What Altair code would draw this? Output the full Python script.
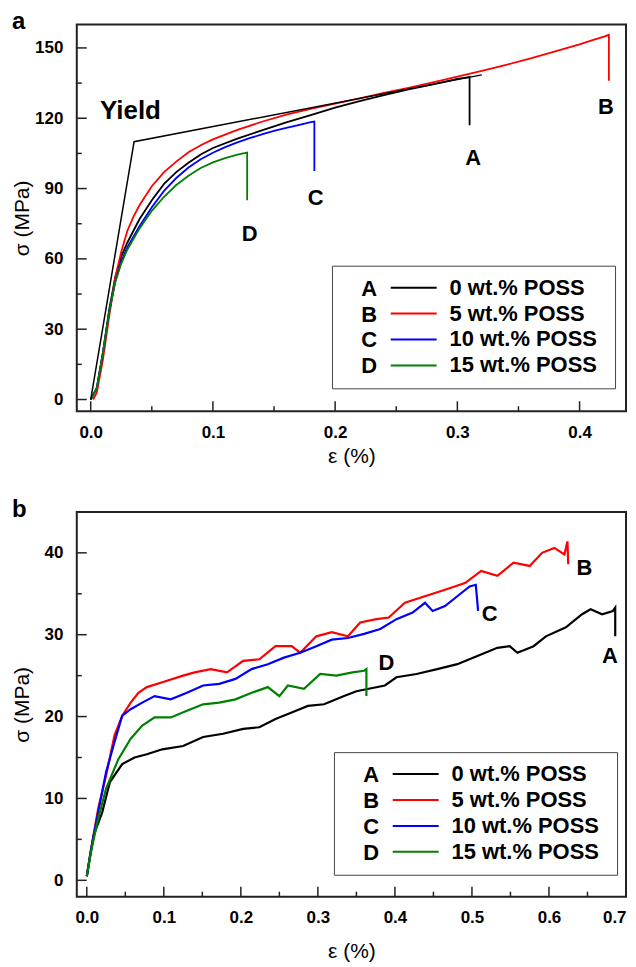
import altair as alt
import pandas as pd

FONT = "Liberation Sans"

series_labels = ["0 wt.% POSS", "5 wt.% POSS", "10 wt.% POSS", "15 wt.% POSS"]
series_letters = ["A", "B", "C", "D"]
series_colors = ["#000000", "#ff0000", "#0000ff", "#008000"]

# ---------------- Panel a ----------------
a_A_x = [0, 0.005, 0.01, 0.015, 0.02, 0.025, 0.03, 0.04, 0.05, 0.06, 0.07, 0.08, 0.09, 0.1, 0.12, 0.14,
         0.16, 0.18, 0.2, 0.22, 0.24, 0.26, 0.28, 0.3, 0.31, 0.31]
a_A_y = [0, 5, 20, 38, 52, 61, 67, 77, 85, 92, 97, 101, 104.5, 107.3, 111.3, 114.8, 118.2, 121.3, 124.5,
         127.3, 129.9, 132.3, 134.5, 136.8, 137.6, 117]
a_B_x = [0.002, 0.005, 0.01, 0.015, 0.02, 0.025, 0.03, 0.035, 0.04, 0.05, 0.06, 0.07, 0.08, 0.09, 0.1,
         0.12, 0.14, 0.16, 0.18, 0.2, 0.22, 0.24, 0.26, 0.28, 0.3, 0.32, 0.34, 0.36, 0.38, 0.4, 0.41, 0.42,
         0.424, 0.424]
a_B_y = [0, 3, 17, 35, 52, 63, 72, 78, 83, 91, 97, 101.5, 105.5, 108.5, 111, 115, 118.5, 121.5, 124,
         126.2, 128.5, 130.8, 133, 135.3, 137.8, 140.2, 142.8, 145.5, 148.5, 151.5, 153.2, 154.8, 155.6, 136]
a_C_x = [0, 0.005, 0.01, 0.015, 0.02, 0.025, 0.03, 0.04, 0.05, 0.06, 0.07, 0.08, 0.09, 0.1, 0.11, 0.12,
         0.13, 0.14, 0.15, 0.16, 0.17, 0.18, 0.183, 0.183]
a_C_y = [0, 5, 20, 37, 50, 59, 65, 74, 82, 89, 94.5, 99, 102.5, 105.3, 107.7, 109.7, 111.5, 113.1, 114.6,
         115.9, 117.1, 118.3, 118.6, 97.5]
a_D_x = [0, 0.005, 0.01, 0.015, 0.02, 0.025, 0.03, 0.04, 0.05, 0.06, 0.07, 0.08, 0.09, 0.1, 0.11, 0.12,
         0.128, 0.128]
a_D_y = [0, 5, 20, 37, 50, 58, 64, 73, 80.5, 86.5, 91.5, 95.5, 98.8, 101.2, 103, 104.5, 105.3, 85]

a_yield_x = [0, 0.0355, 0.32]
a_yield_y = [0, 110, 138.5]
a_yield_label = ["Yield"]
a_yield_label_x = [0.0325]
a_yield_label_y = [123]

a_ann_text = ["A", "B", "C", "D"]
a_ann_x = [0.313, 0.4215, 0.184, 0.130]
a_ann_y = [103, 125, 86, 70.6]

a_x_major = [0, 0.1, 0.2, 0.3, 0.4]
a_x_minor = [0.05, 0.15, 0.25, 0.35]
a_y_major = [0, 30, 60, 90, 120, 150]
a_y_minor = [15, 45, 75, 105, 135]

# ---------------- Panel b ----------------
b_A_x = [0, 0.009, 0.02, 0.03, 0.046, 0.062, 0.078, 0.098, 0.125, 0.151, 0.177, 0.203, 0.224, 0.245,
         0.266, 0.287, 0.308, 0.334, 0.35, 0.366, 0.387, 0.402, 0.428, 0.455, 0.481, 0.507, 0.533, 0.549,
         0.559, 0.58, 0.596, 0.622, 0.643, 0.654, 0.669, 0.683, 0.686, 0.686]
b_A_y = [0.5, 5.5, 8.3, 12, 14.2, 15, 15.4, 16, 16.4, 17.5, 17.9, 18.5, 18.7, 19.7, 20.5, 21.3, 21.5,
         22.5, 23.1, 23.4, 23.8, 24.8, 25.2, 25.8, 26.4, 27.4, 28.4, 28.6, 27.8, 28.6, 29.8, 30.9, 32.5,
         33.1, 32.5, 32.9, 33.3, 29.8]
b_B_x = [0, 0.005, 0.0147, 0.025, 0.036, 0.046, 0.057, 0.067, 0.078, 0.098, 0.125, 0.14, 0.161, 0.182,
         0.203, 0.224, 0.245, 0.266, 0.277, 0.298, 0.318, 0.339, 0.355, 0.376, 0.392, 0.413, 0.439, 0.465,
         0.491, 0.512, 0.533, 0.554, 0.575, 0.591, 0.607, 0.62, 0.624, 0.625]
b_B_y = [0.5, 3.5, 8.7, 12.8, 17.7, 20.1, 21.7, 22.9, 23.6, 24.2, 25, 25.4, 25.8, 25.4, 26.8, 27, 28.6,
         28.6, 27.8, 29.8, 30.3, 29.8, 31.5, 31.9, 32.1, 33.9, 34.7, 35.5, 36.3, 37.8, 37.2, 38.8, 38.4,
         40, 40.6, 39.8, 41.4, 38.6]
b_C_x = [0, 0.005, 0.0147, 0.025, 0.036, 0.046, 0.057, 0.072, 0.088, 0.109, 0.13, 0.151, 0.172, 0.193,
         0.214, 0.235, 0.256, 0.277, 0.298, 0.318, 0.339, 0.36, 0.381, 0.402, 0.423, 0.439, 0.449, 0.465,
         0.481, 0.497, 0.505, 0.508]
b_C_y = [0.5, 3.5, 8.3, 13.2, 16.9, 20.1, 20.9, 21.7, 22.5, 22.1, 22.9, 23.8, 24, 24.6, 25.8, 26.4, 27.2,
         27.8, 28.6, 29.4, 29.6, 30.1, 30.7, 31.9, 32.7, 33.9, 32.9, 33.5, 34.7, 35.9, 36.1, 32.9]
b_D_x = [0, 0.005, 0.0147, 0.025, 0.041, 0.057, 0.072, 0.088, 0.109, 0.13, 0.151, 0.172, 0.193, 0.214,
         0.235, 0.25, 0.261, 0.282, 0.303, 0.324, 0.345, 0.36, 0.363, 0.363]
b_D_y = [0.5, 3.3, 7.5, 11.2, 14.8, 17.3, 18.9, 19.9, 19.9, 20.7, 21.5, 21.7, 22.1, 22.9, 23.6, 22.5,
         23.8, 23.4, 25.2, 25, 25.4, 25.6, 25.8, 22.5]

b_ann_text = ["A", "B", "C", "D"]
b_ann_x = [0.679, 0.646, 0.523, 0.389]
b_ann_y = [27.4, 38.2, 32.5, 26.6]

b_x_major = [0, 0.1, 0.2, 0.3, 0.4, 0.5, 0.6, 0.7]
b_x_minor = [0.05, 0.15, 0.25, 0.35, 0.45, 0.55, 0.65]
b_y_major = [0, 10, 20, 30, 40]
b_y_minor = [5, 15, 25, 35]

FRAME = "#222222"
W = 551


def make_panel(tag, xs_list, ys_list, xdom, ydom, w, h, xmaj, xmin, ymaj, ymin,
               xtitle_y, leg_x, leg_y, ann_text, ann_x, ann_y, lw, flush, extra=None):
    rows = []
    for lab, xs, ys in zip(series_labels, xs_list, ys_list):
        for i, (xv, yv) in enumerate(zip(xs, ys)):
            rows.append({"series": lab, "x": xv, "y": yv, "i": i})
    df = pd.DataFrame(rows)
    xsc = alt.Scale(domain=xdom, nice=False, zero=False)
    ysc = alt.Scale(domain=ydom, nice=False, zero=False)
    xaxis = alt.Axis(values=xmaj, format=".1f", ticks=False, tickSize=0, domain=False, grid=False,
                     labelFont=FONT, labelFontSize=17, labelFontWeight="bold", labelColor="black",
                     labelPadding=13, labelFlush=flush, labelOverlap=False,
                     title="ε (%)", titleFont=FONT, titleFontSize=21, titleFontWeight="normal",
                     titleColor="black", titleX=w / 2, titleY=xtitle_y, titleBaseline="middle")
    yaxis = alt.Axis(values=ymaj, format="d", ticks=False, tickSize=0, domain=False, grid=False,
                     labelFont=FONT, labelFontSize=17, labelFontWeight="bold", labelColor="black",
                     labelPadding=14, labelFlush=False, labelOverlap=False,
                     title="σ (MPa)", titleFont=FONT, titleFontSize=21, titleFontWeight="normal",
                     titleColor="black", titleX=-54, titleY=h / 2, titleBaseline="middle")
    X = lambda: alt.X("x:Q", scale=xsc, axis=xaxis)
    Y = lambda: alt.Y("y:Q", scale=ysc, axis=yaxis)

    legend = alt.Legend(
        orient="none", legendX=leg_x, legendY=leg_y,
        title=["\u200b\u00a0\u00a0\u00a0" + s for s in series_letters], titleOrient="left",
        titleFont=FONT, titleFontSize=22, titleFontWeight="bold", titleColor="black",
        titleLineHeight=26, titleBaseline="line-top", titleAnchor="start", titleAlign="left",
        titlePadding=11,
        labelFont=FONT, labelFontSize=22, labelFontWeight="bold", labelColor="black",
        labelExpr="datum.label + '\u00a0\u200b'",
        symbolType="M-2.5,0H2.5", symbolSize=340, symbolStrokeWidth=2, symbolOffset=14,
        labelOffset=25, rowPadding=4, padding=11,
        strokeColor="#444444", fillColor="white",
    )
    lines = alt.Chart(df).mark_line(strokeWidth=lw, clip=True).encode(
        x=X(), y=Y(),
        color=alt.Color("series:N", scale=alt.Scale(domain=series_labels, range=series_colors),
                        legend=legend),
        order=alt.Order("i:Q"),
    )
    layers = [lines]
    if extra is not None:
        layers += extra(X, Y)

    def xticks(vals, ln):
        return alt.Chart(pd.DataFrame({"x": vals})).mark_rule(color=FRAME, strokeWidth=1.5).encode(
            x=X(), y=alt.value(h), y2=alt.value(h - ln))

    def yticks(vals, ln):
        return alt.Chart(pd.DataFrame({"y": vals})).mark_rule(color=FRAME, strokeWidth=1.5).encode(
            y=Y(), x=alt.value(0), x2=alt.value(ln))

    layers += [xticks(xmaj, 10), xticks(xmin, 5), yticks(ymaj, 10), yticks(ymin, 5)]

    ann = alt.Chart(pd.DataFrame({"t": ann_text, "x": ann_x, "y": ann_y})).mark_text(
        font=FONT, fontSize=22, fontWeight="bold", color="black").encode(
        text="t:N", x=X(), y=Y())
    letter = alt.Chart(pd.DataFrame({"t": [tag]})).mark_text(
        font=FONT, fontSize=24, fontWeight="bold", color="black", align="left",
        baseline="alphabetic").encode(text="t:N", x=alt.value(-65), y=alt.value(5))
    layers += [ann, letter]
    return alt.layer(*layers).properties(width=w, height=h)


def yield_layers(X, Y):
    yl = alt.Chart(pd.DataFrame({"x": a_yield_x, "y": a_yield_y})).mark_line(
        color="black", strokeWidth=1.5).encode(x=X(), y=Y())
    yt = alt.Chart(pd.DataFrame({"t": a_yield_label, "x": a_yield_label_x, "y": a_yield_label_y})).mark_text(
        font=FONT, fontSize=26, fontWeight="bold", color="black").encode(text="t:N", x=X(), y=Y())
    return [yl, yt]


panel_a = make_panel("a", [a_A_x, a_B_x, a_C_x, a_D_x], [a_A_y, a_B_y, a_C_y, a_D_y],
                     [-0.0114, 0.438], [-5, 160], W, 388,
                     a_x_major, a_x_minor, a_y_major, a_y_minor,
                     45, 256, 242, a_ann_text, a_ann_x, a_ann_y, 1.8, False, extra=yield_layers)
panel_b = make_panel("b", [b_A_x, b_B_x, b_C_x, b_D_x], [b_A_y, b_B_y, b_C_y, b_D_y],
                     [-0.013, 0.7], [-2, 45], W, 386,
                     b_x_major, b_x_minor, b_y_major, b_y_minor,
                     55, 258, 241, b_ann_text, b_ann_x, b_ann_y, 2.2, 2)

chart = alt.vconcat(panel_a, panel_b, spacing=30).properties(
    padding={"left": 3, "top": 0, "right": 0, "bottom": -1}
).configure_view(stroke=FRAME, strokeWidth=2).resolve_scale(color="independent")

chart.save("out.html", embed_options={"renderer": "svg", "actions": False})
